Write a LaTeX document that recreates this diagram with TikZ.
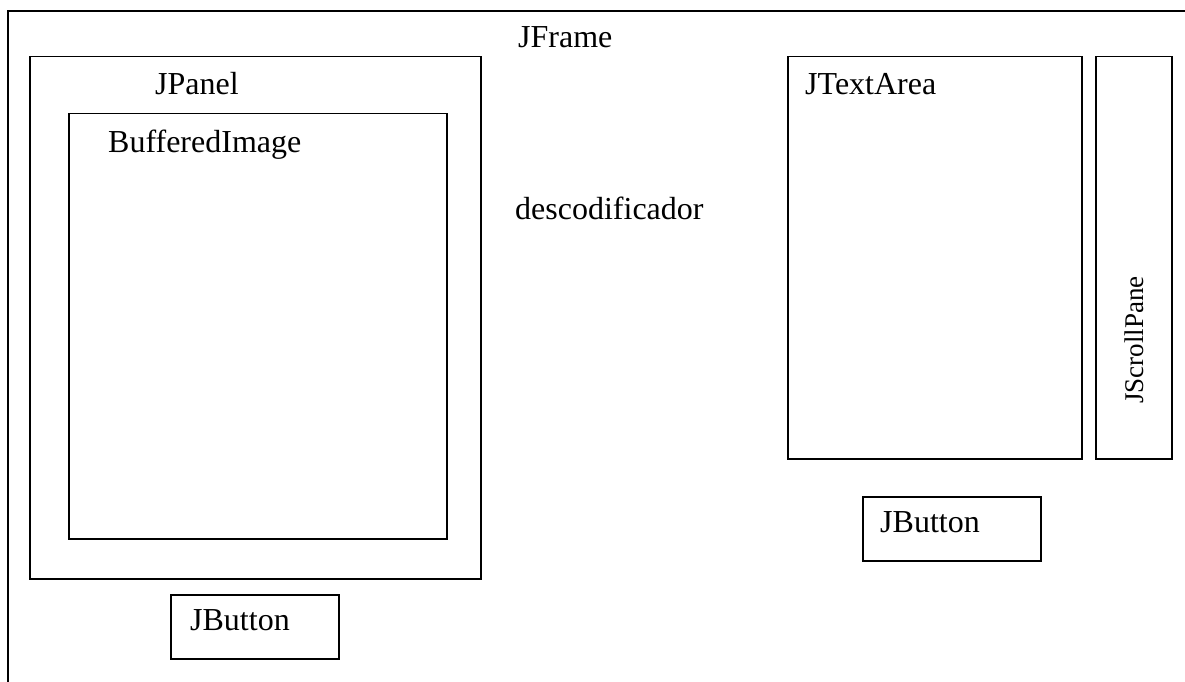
\documentclass[tikz,border=0pt]{standalone}
\usepackage{fontspec}
\setmainfont{Liberation Serif}
\begin{document}
\begin{tikzpicture}[x=1pt,y=-1pt,
  box/.style={draw=black, line width=1.5pt, rectangle, inner sep=0pt, anchor=north west},
  lbl/.style={anchor=base west, inner sep=0pt, font=\fontsize{32}{38}\selectfont}]
  \useasboundingbox (0,0) rectangle (1185,682);
  \fill[white] (0,0) rectangle (1185,682);
  \clip (0,0) rectangle (1185,682);
  % outer window
  \node[box, line width=2pt, minimum width=1300pt, minimum height=760pt] (jframe) at (7,10) {};
  \node[lbl] (jframeLbl) at (518,48) {JFrame};
  \node[lbl] (decoder) at (515,219) {descodificador};
  % left panel with the image
  \node[box, minimum width=451pt, minimum height=522pt] (jpanel) at (29,56) {};
  \node[lbl] (jpanelLbl) at (155,95) {JPanel};
  \node[box, minimum width=378pt, minimum height=425pt] (bimg) at (68,113) {};
  \node[lbl] (bimgLbl) at (108,152) {BufferedImage};
  \node[box, minimum width=168pt, minimum height=64pt] (btnL) at (170,594) {};
  \node[lbl] (btnLLbl) at (190,630) {JButton};
  % right side: text area, scroll pane, button
  \node[box, minimum width=294pt, minimum height=402pt] (textarea) at (787,56) {};
  \node[lbl] (textareaLbl) at (805,95) {JTextArea};
  \node[box, minimum width=76pt, minimum height=402pt] (scroll) at (1095,56) {};
  \node[lbl, rotate=90, font=\fontsize{27}{32}\selectfont] (scrollLbl) at (1143,404) {JScrollPane};
  \node[box, minimum width=178pt, minimum height=64pt] (btnR) at (862,496) {};
  \node[lbl] (btnRLbl) at (880,532) {JButton};
\end{tikzpicture}
\end{document}
